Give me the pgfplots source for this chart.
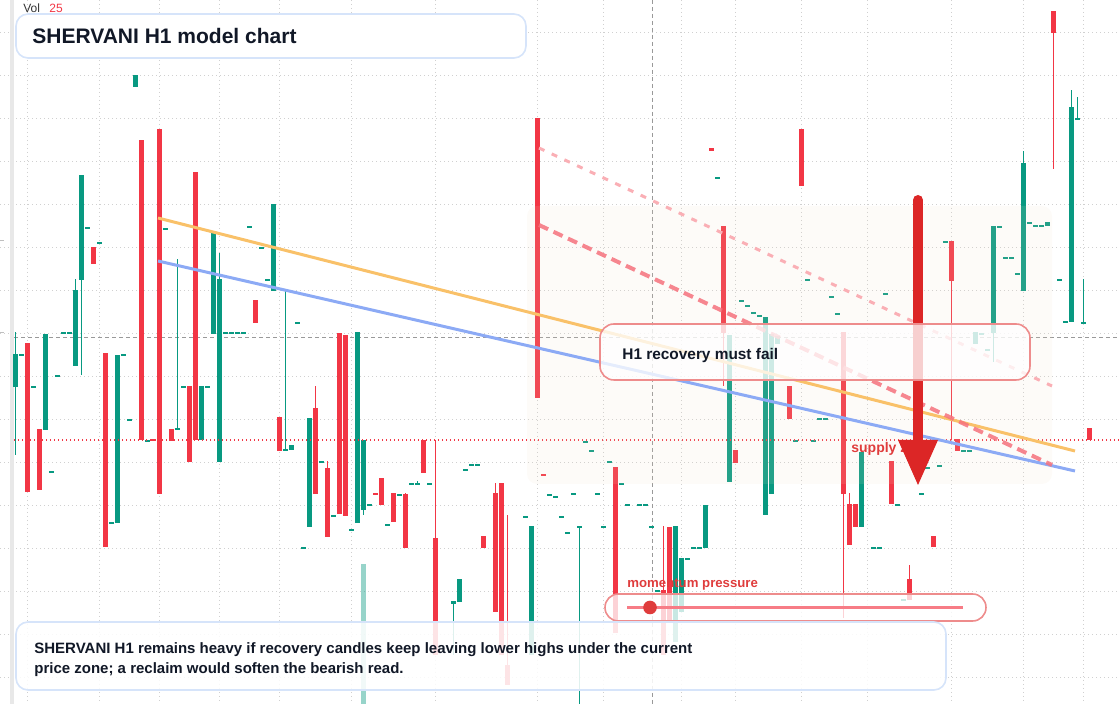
\documentclass[border=0pt]{standalone}
\usepackage{fontspec}
\setmainfont{Liberation Sans}
\usepackage{pgfplots}
\pgfplotsset{compat=1.18}
\usepackage{pgfplotstable}

\definecolor{tvgreen}{RGB}{8,153,129}
\definecolor{tvred}{RGB}{242,54,69}
\definecolor{txtdark}{RGB}{17,24,39}
\definecolor{boxblue}{RGB}{214,228,250}
\definecolor{boxred}{RGB}{238,140,140}
\definecolor{arrowred}{RGB}{220,38,38}
\definecolor{zonecol}{RGB}{240,222,196}
\definecolor{trendorange}{RGB}{249,193,105}
\definecolor{trendblue}{RGB}{140,170,245}
\definecolor{gridgrey}{RGB}{208,208,208}

% candles in chart pixel levels: x, body top/bottom, wick top/bottom
\pgfplotstableread{
x bt bb wt wb
15 354 387 332 455
21 354 355.5 354 355.5
33 386 387.5 386 387.5
45 334 430 334 430
51 471 472.5 471 472.5
57 375 376.5 375 376.5
63 332 333.5 332 333.5
69 332 333.5 332 333.5
75 290 366 279 366
81 175 280 175 375
87 227 228.5 227 228.5
99 242 243.5 242 243.5
111 522 523.5 522 523.5
117 355 523 355 523
123 354 355.5 354 355.5
129 419 420.5 419 420.5
135 75 87 75 87
147 440 441.5 440 441.5
165 228 229.5 228 229.5
177 428 429.5 259 429.5
183 386 387.5 386 387.5
201 386 440 386 440
207 386 387.5 386 387.5
213 231 334 231 334
219 279 462 253 462
225 332 333.5 332 333.5
231 332 333.5 332 333.5
237 332 333.5 332 333.5
243 332 333.5 332 333.5
249 226 227.5 226 227.5
261 247 248.5 247 248.5
267 279 280.5 279 280.5
273 204 291 204 291
285 449 450.5 291 450.5
291 445 450 445 450
297 322 323.5 322 323.5
303 547 548.5 547 548.5
309 418 527 418 527
321 461 462.5 461 462.5
333 515 516.5 515 516.5
351 529 530.5 529 530.5
357 332 523 332 523
363 440 510 440 515
369 504 505.5 504 505.5
387 524 525.5 524 525.5
399 494 495.5 494 495.5
411 483 484.5 483 484.5
417 483 484.5 481 484.5
429 483 484.5 483 484.5
453 601 604 601 655
459 579 602 579 602
465 469 470.5 469 470.5
471 464 465.5 464 465.5
477 464 465.5 464 465.5
525 516 517.5 516 517.5
531 526 655 526 655
549 494 495.5 494 495.5
555 496 497.5 496 497.5
561 516 517.5 516 517.5
567 532 533.5 532 533.5
573 493 494.5 493 494.5
579 526 527.5 526 704
585 441 442.5 441 442.5
591 450 451.5 450 451.5
597 493 494.5 493 494.5
603 526 527.5 526 527.5
609 461 462.5 461 462.5
621 483 484.5 483 484.5
627 504 505.5 504 505.5
639 504 505.5 504 505.5
645 504 505.5 504 505.5
651 526 527.5 526 527.5
657 590 591.5 590 591.5
675 526 642 526 642
681 558 612 558 612
687 558 559.5 558 559.5
693 547 548.5 547 548.5
699 547 548.5 547 548.5
705 505 548 505 548
717 177 178.5 177 178.5
729 335 482 335 482
741 300 301.5 300 301.5
747 305 306.5 305 306.5
753 312 313.5 312 313.5
759 315 316.5 315 316.5
765 317 515 317 515
771 334 494 334 494
777 336 344 336 344
795 440 441.5 440 441.5
807 279 280.5 279 280.5
813 440 441.5 440 441.5
819 418 419.5 418 419.5
825 418 419.5 418 419.5
831 296 297.5 296 297.5
837 313 314.5 313 314.5
861 452 527 452 527
873 547 548.5 547 548.5
879 547 548.5 547 548.5
885 293 294.5 293 294.5
897 504 505.5 504 505.5
903 599 600.5 599 600.5
921 493 494.5 493 494.5
927 467 468.5 467 468.5
939 465 466.5 465 466.5
945 241 242.5 241 242.5
963 450 451.5 450 451.5
969 450 451.5 450 451.5
975 332 344 332 344
981 333 334.5 333 334.5
987 349 350.5 349 350.5
993 226 333 226 362
999 226 227.5 226 227.5
1005 257 258.5 257 258.5
1011 257 258.5 257 258.5
1017 273 274.5 273 274.5
1023 163 291 151 291
1029 222 223.5 222 223.5
1035 225 226.5 225 226.5
1041 225 226.5 225 226.5
1047 222 226 222 226
1059 279 280.5 279 280.5
1065 321 322.5 321 322.5
1071 107 322 90 322
1077 118 119.5 97 119.5
1083 322 323.5 279 323.5
}\greencandles

\pgfplotstableread{
x bt bb wt wb
27 343 492 343 492
39 429 490 429 490
93 247 264 247 264
105 353 547 353 547
141 140 440 140 440
153 439 441 439 441
159 129 494 129 494
171 429 441 429 441
189 386 462 386 462
195 172 440 172 440
255 300 323 300 323
279 417 451 417 451
315 408 494 386 494
327 468 537 461 537
339 333 514 333 514
345 335 516 335 516
375 493 494.5 493 494.5
381 478 505 478 505
393 493 522 493 522
405 494 548 493 548
423 440 473 440 473
435 538 655 440 655
483 536 548 536 548
495 493 612 483 612
501 483 655 483 655
507 665 685 515 685
537 118 398 118 398
543 474 475.5 474 475.5
615 467 633 467 633
663 590 655 526 655
669 527 622 527 622
711 148 151 148 151
723 226 333 226 386
735 450 463 450 463
789 386 419 386 419
801 129 186 129 186
843 332 494 332 618
849 504 545 493 545
855 504 527 504 527
891 461 504 461 504
909 579 600 565 600
933 536 547 536 547
951 241 281 241 440
957 439 451 439 451
1053 11 33 11 169
1089 428 440 428 440
}\redcandles

\pgfplotstableread{
x bt bb
363 564 704
}\volbars

\pgfplotsset{
  candlebar/.style 2 args={only marks, mark size=0pt,
    mark options={draw opacity=0, fill opacity=0}, forget plot,
    error bars/.cd, y dir=both, y explicit, error mark=none,
    error bar style={line width=#1, draw=#2}},
}

\newcommand{\candles}[2]{%
  \addplot[candlebar={0.5pt}{#2}]
    table[x=x, y expr={(\thisrow{wt}+\thisrow{wb})/2},
      y error expr={(\thisrow{wb}-\thisrow{wt})/2}] {#1};
  \addplot[candlebar={2.5pt}{#2}]
    table[x=x, y expr={(\thisrow{bt}+\thisrow{bb})/2},
      y error expr={(\thisrow{bb}-\thisrow{bt})/2}] {#1};
}

\begin{document}
\begin{tikzpicture}
\begin{axis}[
  name=ax,
  width=560pt, height=352pt, scale only axis,
  xmin=0, xmax=1120, ymin=0, ymax=704, y dir=reverse,
  axis line style={draw=none},
  major tick length=0pt,
  xtick={27,99,159,219,279,351,435.7,537,603,681,735,801,867,951,1023,1083},
  ytick={32.3,75.3,118.3,161.3,204.3,247.3,290.3,333.3,376.3,419.3,462.3,505.3,548.3,591.3,634.3,677.3},
  xticklabels={}, yticklabels={},
  grid=major,
  grid style={draw=gridgrey, line width=0.5pt, dash pattern=on 0.5pt off 1.5pt},
]
% left price strip and faint ticks
\fill[black!9] (axis cs:10,0) rectangle (axis cs:14,704);
\draw[black!25, line width=0.5pt] (axis cs:0,241) -- (axis cs:4,241);
\draw[black!25, line width=0.5pt] (axis cs:0,333) -- (axis cs:4,333);

% crosshair
\draw[black!40, line width=0.5pt, dash pattern=on 2pt off 1.5pt] (axis cs:14,338) -- (axis cs:1120,338);
\draw[black!40, line width=0.5pt, dash pattern=on 2pt off 1.5pt] (axis cs:652,0) -- (axis cs:652,704);

% volume
\addplot[only marks, mark size=0pt, mark options={draw opacity=0, fill opacity=0}, forget plot,
  error bars/.cd, y dir=both, y explicit, error mark=none,
  error bar style={line width=2.5pt, draw=tvgreen, draw opacity=0.42}]
  table[x=x, y expr={(\thisrow{bt}+\thisrow{bb})/2},
    y error expr={(\thisrow{bb}-\thisrow{bt})/2}] {\volbars};

\candles{\greencandles}{tvgreen}
\candles{\redcandles}{tvred}

% current price line
\draw[tvred, line width=0.6pt, dash pattern=on 0.6pt off 1.4pt] (axis cs:14,440) -- (axis cs:1120,440);

% supply zone
\fill[zonecol, fill opacity=0.12, rounded corners=5pt] (axis cs:527,206) rectangle (axis cs:1052,484);

% trend lines
\draw[trendorange, line width=1.5pt] (axis cs:158,218) -- (axis cs:1075,451);
\draw[trendblue, line width=1.5pt] (axis cs:158,261) -- (axis cs:1075,471);
\draw[tvred!40, line width=1.5pt, dash pattern=on 3pt off 4pt] (axis cs:539,148) -- (axis cs:1052,386);
\draw[tvred!70, draw opacity=0.85, line width=2pt, dash pattern=on 5pt off 3pt] (axis cs:539,225) -- (axis cs:1052,465);

% supply zone label and arrow
\node[anchor=base west, inner sep=0, text=arrowred!90, font=\bfseries\fontsize{7}{8}\selectfont] at (axis cs:851,452.7) {supply zone};
\draw[arrowred, line width=5pt, line cap=round] (axis cs:918,200) -- (axis cs:918,445);
\fill[arrowred] (axis cs:898,440) -- (axis cs:938,440) -- (axis cs:918,485) -- cycle;

% annotation box
\draw[boxred, line width=0.8pt, fill=white, fill opacity=0.78, rounded corners=7pt] (axis cs:600,324) rectangle (axis cs:1030,380);
\node[anchor=base west, inner sep=0, text=txtdark, font=\bfseries\fontsize{7.7}{9}\selectfont] at (axis cs:622,359.3) {H1 recovery must fail};

% momentum pill
\node[anchor=base west, inner sep=0, text=arrowred!90, font=\bfseries\fontsize{6.6}{8}\selectfont] at (axis cs:627,587.3) {momentum pressure};
\draw[boxred, line width=0.8pt, fill=white, fill opacity=0.78, rounded corners=6.7pt] (axis cs:605,594) rectangle (axis cs:986,621);
\draw[tvred!65, line width=1.5pt] (axis cs:627,607.5) -- (axis cs:963,607.5);
\fill[arrowred!90] (axis cs:650,607.5) circle[radius=3.4pt];

% bottom note
\draw[boxblue, line width=0.8pt, fill=white, fill opacity=0.87, rounded corners=6pt] (axis cs:16,622) rectangle (axis cs:946,690);
\node[anchor=base west, inner sep=0, text=txtdark, font=\bfseries\fontsize{7.5}{9}\selectfont] at (axis cs:34,653.3) {SHERVANI H1 remains heavy if recovery candles keep leaving lower highs under the current};
\node[anchor=base west, inner sep=0, text=txtdark, font=\bfseries\fontsize{7.5}{9}\selectfont] at (axis cs:34,673.3) {price zone; a reclaim would soften the bearish read.};

% title
\draw[boxblue, line width=0.8pt, fill=white, rounded corners=6pt] (axis cs:16,14) rectangle (axis cs:526,58);
\node[anchor=base west, inner sep=0, text=txtdark, font=\bfseries\fontsize{10.5}{12}\selectfont] at (axis cs:32,43.3) {SHERVANI H1 model chart};

% volume legend
\node[anchor=base west, inner sep=0, text=black!80, font=\fontsize{6}{7}\selectfont] at (axis cs:23,12.5) {Vol};
\node[anchor=base west, inner sep=0, text=tvred, font=\fontsize{6}{7}\selectfont] at (axis cs:49,12.5) {25};
\end{axis}
\pgfresetboundingbox
\useasboundingbox (ax.south west) rectangle (ax.north east);
\end{tikzpicture}
\end{document}
